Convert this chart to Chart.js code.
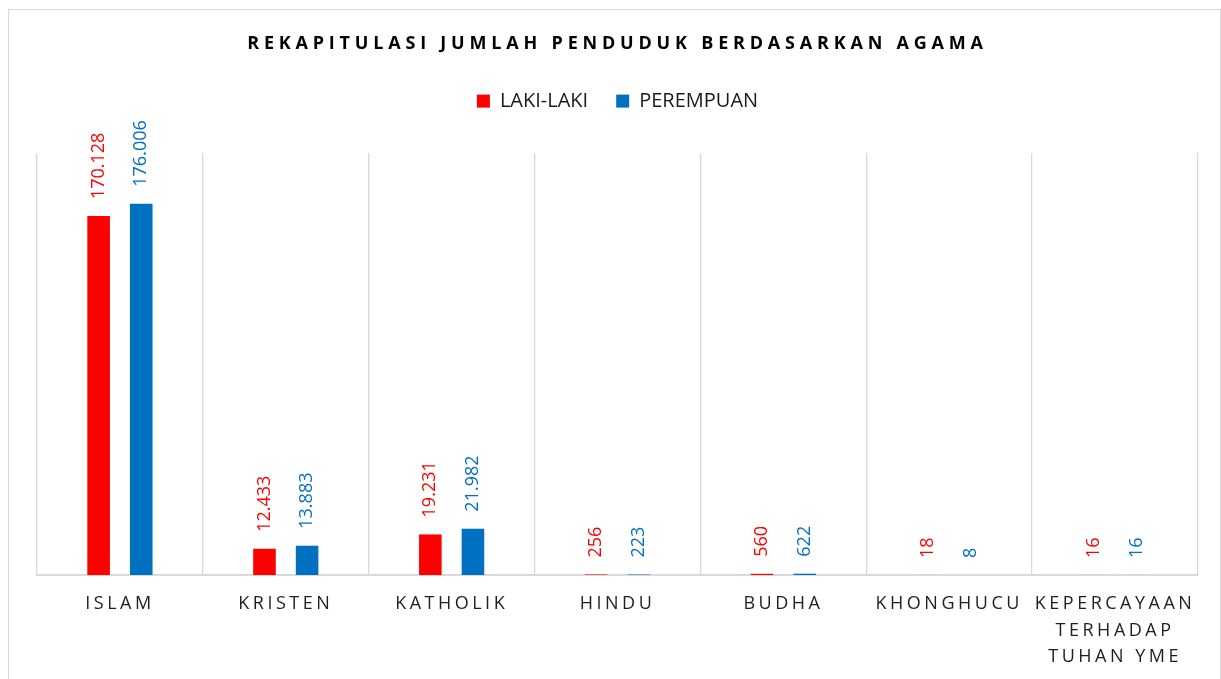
<!DOCTYPE html>
<html>
<head>
<meta charset="utf-8">
<script src="https://cdn.jsdelivr.net/npm/chart.js@4"></script>
<style>
  body { margin: 0; background: #fff; }
  #box { position: absolute; left: 8px; top: 9px; width: 1211px; height: 680px; border: 1px solid #d9d9d9; }
</style>
</head>
<body>
<div id="box"><canvas id="agama" width="1211" height="680"></canvas></div>
<script>
var categories = ['ISLAM', 'KRISTEN', 'KATHOLIK', 'HINDU', 'BUDHA', 'KHONGHUCU', ['KEPERCAYAAN', 'TERHADAP', 'TUHAN YME']];
var lakiLaki = [170128, 12433, 19231, 256, 560, 18, 16];
var perempuan = [176006, 13883, 21982, 223, 622, 8, 16];

function fmt(v) {
    return v.toString().replace(/\B(?=(\d{3})+(?!\d))/g, '.');
}

// rotated value labels above each bar
var valueLabels = {
    id: 'valueLabels',
    afterDatasetsDraw: function(chart) {
        var ctx = chart.ctx;
        chart.data.datasets.forEach(function(ds, i) {
            chart.getDatasetMeta(i).data.forEach(function(bar, j) {
                ctx.save();
                ctx.translate(bar.x, bar.y - 17);
                ctx.rotate(-Math.PI / 2);
                ctx.font = '18px "Open Sans"';
                ctx.fillStyle = ds.backgroundColor;
                ctx.textAlign = 'left';
                ctx.textBaseline = 'middle';
                ctx.fillText(fmt(ds.data[j]), 0, 0);
                ctx.restore();
            });
        });
    }
};

// more room under the legend
var legendRoom = {
    id: 'legendRoom',
    beforeInit: function(chart) {
        var lg = chart.legend, fit = lg.fit;
        lg.fit = function() {
            fit.apply(this, arguments);
            this.height = Math.max(this.height, 90);
        };
    }
};

// spaced letters for title and category labels
var spacing = {
    id: 'spacing',
    beforeDraw: function(chart) {
        if (chart._spaced) return;
        chart._spaced = true;
        var t = chart.titleBlock, drawTitle = t.draw;
        t.draw = function() {
            chart.ctx.save();
            chart.ctx.letterSpacing = '4.8px';
            drawTitle.apply(this, arguments);
            chart.ctx.restore();
        };
        var x = chart.scales.x, drawLabels = x.drawLabels;
        x.drawLabels = function() {
            chart.ctx.save();
            chart.ctx.letterSpacing = '3.5px';
            drawLabels.apply(this, arguments);
            chart.ctx.restore();
        };
    }
};

var agamaChart = new Chart(document.getElementById('agama'), {
    type: 'bar',
    data: {
        labels: categories,
        datasets: [{
            label: 'LAKI-LAKI',
            data: lakiLaki,
            backgroundColor: '#ff0000',
            categoryPercentage: 0.514,
            barPercentage: 0.53
        }, {
            label: 'PEREMPUAN',
            data: perempuan,
            backgroundColor: '#0070c0',
            categoryPercentage: 0.514,
            barPercentage: 0.53
        }]
    },
    options: {
        responsive: false,
        animation: false,
        layout: { padding: { left: 28, right: 22, top: 0, bottom: 0 } },
        plugins: {
            title: {
                display: true,
                text: 'REKAPITULASI JUMLAH PENDUDUK BERDASARKAN AGAMA',
                color: '#000',
                font: { family: 'Open Sans', size: 18, weight: 'bold', lineHeight: 1.2 },
                padding: { top: 23, bottom: 8.5 }
            },
            legend: {
                labels: {
                    color: '#1a1a1a',
                    font: { family: 'Open Sans', size: 20 },
                    boxWidth: 13,
                    boxHeight: 13,
                    padding: 28
                }
            },
            tooltip: { enabled: false }
        },
        scales: {
            x: {
                grid: { offset: true, color: '#d9d9d9', lineWidth: 1.3, drawTicks: false },
                border: { color: '#d9d9d9', width: 2 },
                ticks: {
                    color: '#1f1f1f',
                    padding: 16,
                    font: { family: 'Open Sans', size: 18, lineHeight: 1.47 },
                    maxRotation: 0,
                    autoSkip: false
                },
                afterFit: function(scale) { scale.height = 115; }
            },
            y: {
                display: false,
                min: 0,
                max: 200000
            }
        }
    },
    plugins: [valueLabels, legendRoom, spacing]
});
</script>
</body>
</html>
